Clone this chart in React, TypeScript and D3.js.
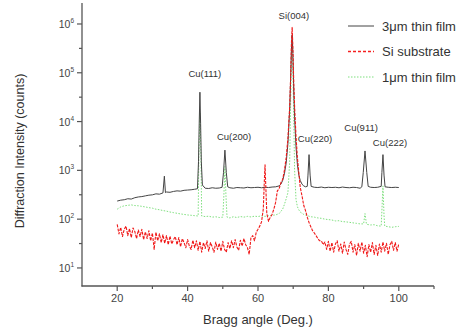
import React from "react";
import * as d3 from "d3";

// ---- data ----
const blackAngles = [20,21,22,23,24,25,26,27,28,29,30,31,32,33,33.4,33.7,34,35,36,37,38,39,40,41,42,42.8,43.1,43.3,43.5,43.7,43.9,44.2,45,46,47,48,49,49.8,50.2,50.6,51.0,51.4,52,53,54,55,56,57,58,59,60,61,62,63,64,65,66,66.5,67,67.5,68,68.5,69,69.3,69.5,69.7,69.9,70.1,70.4,70.8,71.2,71.6,72,72.5,73,73.5,74.0,74.2,74.5,74.8,75.1,76,77,78,79,80,81,82,83,84,85,86,87,88,89,89.5,89.9,90.4,90.9,91.3,92,93,94,95.0,95.2,95.5,95.8,96.1,97,98,99,100];
const blackCounts = [235,245,250,262,258,275,285,290,300,310,315,330,325,345,760,350,360,355,370,380,375,390,395,400,410,420,1500,9000,40000,9000,1500,500,430,425,440,430,435,450,900,2600,900,460,440,430,445,440,435,450,440,445,450,440,450,445,455,460,480,520,620,850,1400,3500,18000,90000,300000,600000,250000,60000,12000,3000,1300,800,620,520,480,460,470,800,2100,800,470,450,445,455,440,450,445,450,440,455,445,440,450,445,430,460,900,2500,900,470,450,445,450,470,900,2100,800,460,450,445,450,445];

const redAngles = [20,20.5,21,21.5,22,22.5,23,23.5,24,24.5,25,25.5,26,26.5,27,27.5,28,28.5,29,29.5,30,30.5,31,31.5,32,32.5,33,33.5,34,34.5,35,35.5,36,36.5,37,37.5,38,38.5,39,39.5,40,40.5,41,41.5,42,42.5,43,43.5,44,44.5,45,45.5,46,46.5,47,47.5,48,48.5,49,49.5,50,50.5,51,51.5,52,52.5,53,53.5,54,54.5,55,55.5,56,56.5,57,57.5,58,58.5,59,59.5,60,60.5,61,61.5,61.8,62,62.2,62.5,63,63.5,64,64.5,65,65.5,66,66.5,67,67.5,68,68.5,69,69.3,69.5,69.7,69.9,70.1,70.4,70.8,71.2,71.6,72,72.5,73,73.5,74,74.5,75,75.5,76,76.5,77,77.5,78,78.5,79,79.5,80,80.5,81,81.5,82,82.5,83,83.5,84,84.5,85,85.5,86,86.5,87,87.5,88,88.5,89,89.5,90,90.5,91,91.5,92,92.5,93,93.5,94,94.5,95,95.5,96,96.5,97,97.5,98,98.5,99,99.5,100];
const redCounts = [78,50,68,44,62,72,46,64,42,66,56,40,60,44,62,38,55,40,58,36,52,24,54,36,50,33,48,32,46,30,45,31,38,44,30,42,27,40,33,26,38,28,24,37,26,36,23,35,21,33,25,36,22,33,27,21,34,24,32,22,35,24,21,33,25,36,26,38,27,23,37,28,40,30,26,19,42,46,36,54,62,72,88,160,600,1300,500,130,90,110,125,160,220,380,420,560,650,1000,1800,4500,20000,100000,400000,850000,350000,90000,20000,5000,1800,900,450,300,190,150,110,85,70,58,52,46,40,36,36,30,34,24,35,22,33,21,31,36,22,31,20,34,24,19,31,35,21,30,18,32,22,34,20,29,17,30,21,33,19,29,18,31,21,34,22,32,19,30,35,23,33,22,31];

const greenAngles = [20,21,22,23,24,25,26,27,28,29,30,31,32,33,34,35,36,37,38,39,40,41,42,43,43.2,43.5,43.8,44,45,46,47,48,49,50,50.3,50.6,50.9,51.2,52,53,54,55,56,57,58,59,60,61,62,63,64,65,66,67,67.5,68,68.5,69,69.3,69.5,69.7,69.9,70.1,70.4,70.8,71.2,71.6,72,73,74,75,76,77,78,79,80,81,82,83,84,85,86,87,88,89,90,90.4,90.8,91,92,93,94,95,95.2,95.5,95.8,96,97,98,99,100];
const greenCounts = [160,178,188,192,196,190,188,183,178,172,168,160,156,150,146,140,136,132,128,125,122,120,118,116,2000,15000,2000,116,113,115,110,112,108,110,300,1200,300,110,106,112,108,113,110,114,111,115,113,117,114,118,120,122,130,160,200,260,350,1500,30000,200000,400000,150000,20000,1000,250,180,155,140,125,118,112,110,106,104,100,98,96,92,93,89,88,86,84,82,80,80,130,80,78,76,77,73,72,150,480,120,72,70,68,70,71];

const xMajorTicks = [20, 40, 60, 80, 100];
const xMinorTicks = [30, 50, 70, 90, 110];
const yExponents = [1, 2, 3, 4, 5, 6];

const legendLabels = ["3\u03bcm thin film", "Si substrate", "1\u03bcm thin film"];
const peakLabels = ["Si(004)", "Cu(111)", "Cu(200)", "Cu(220)", "Cu(911)", "Cu(222)"];
const peakLabelAngles = [70.2, 44.9, 53.2, 76.2, 89.3, 97.5];
const peakLabelCounts = [1.26e6, 8.2e4, 4.2e3, 3.8e3, 6.4e3, 3.2e3];

const FONT = "Arial, 'Liberation Sans', sans-serif";

export default function App() {
  const W = 462, H = 330;
  const x = d3.scaleLinear().domain([10, 110]).range([82, 434]);
  const y = d3.scaleLog().domain([Math.pow(10, 0.63), Math.pow(10, 6.43)]).range([286, 3]);

  const mk = (a: number[], c: number[]) =>
    d3.line<number>().x((_, i) => x(a[i])).y((v) => y(v))(c) as string;

  const axisColor = "#555";
  const series = [
    { d: mk(greenAngles, greenCounts), color: "#7fe07f", dash: "1.5,1.5", w: 1 },
    { d: mk(blackAngles, blackCounts), color: "#444", dash: "", w: 1 },
    { d: mk(redAngles, redCounts), color: "#f01818", dash: "3,1.2", w: 1.1 },
  ];
  const legendStyles = [
    { color: "#444", dash: "", w: 1 },
    { color: "#f52020", dash: "3,2", w: 1.4 },
    { color: "#7fe07f", dash: "1.5,1.5", w: 1.2 },
  ];

  return (
    <svg width={W} height={H} style={{ position: "absolute", left: 0, top: 0, background: "#fff" }}>
      <defs>
        <clipPath id="plot">
          <rect x={82} y={3} width={352} height={283} />
        </clipPath>
      </defs>
      <g clipPath="url(#plot)" fill="none">
        {series.map((s, i) => (
          <path key={i} d={s.d} stroke={s.color} strokeWidth={s.w} strokeDasharray={s.dash || undefined} strokeLinejoin="round" />
        ))}
      </g>
      <line x1={82} x2={82} y1={3} y2={286.5} stroke={axisColor} strokeWidth={1.3} />
      <line x1={81.5} x2={434} y1={286} y2={286} stroke={axisColor} strokeWidth={1.3} />
      {yExponents.map((e) => (
        <g key={e}>
          <line x1={77} x2={82} y1={y(Math.pow(10, e))} y2={y(Math.pow(10, e))} stroke={axisColor} strokeWidth={1.2} />
          <text x={74} y={y(Math.pow(10, e)) + 4} textAnchor="end" fontFamily={FONT} fontSize={10.5} fill="#444">
            10<tspan fontSize={6.5} dy={-5}>{e}</tspan>
          </text>
        </g>
      ))}
      {yExponents.slice(0, 5).map((e) => (
        <line key={"m" + e} x1={79} x2={82} y1={y(Math.pow(10, e + 0.5))} y2={y(Math.pow(10, e + 0.5))} stroke={axisColor} strokeWidth={1.2} />
      ))}
      {xMajorTicks.map((t) => (
        <g key={t}>
          <line x1={x(t)} x2={x(t)} y1={286} y2={291} stroke={axisColor} strokeWidth={1.2} />
          <text x={x(t)} y={302} textAnchor="middle" fontFamily={FONT} fontSize={11} fill="#444">{t}</text>
        </g>
      ))}
      {xMinorTicks.map((t) => (
        <line key={"n" + t} x1={x(t)} x2={x(t)} y1={286} y2={289} stroke={axisColor} strokeWidth={1.2} />
      ))}
      <text x={258} y={324} textAnchor="middle" fontFamily={FONT} fontSize={13} fill="#333">Bragg angle (Deg.)</text>
      <text transform="translate(24,151) rotate(-90)" textAnchor="middle" fontFamily={FONT} fontSize={12.5} fill="#333">Diffraction Intensity (counts)</text>
      {peakLabels.map((p, i) => (
        <text key={p} x={x(peakLabelAngles[i])} y={y(peakLabelCounts[i])} textAnchor="middle" fontFamily={FONT} fontSize={9.5} fill="#333">{p}</text>
      ))}
      {legendLabels.map((l, i) => (
        <g key={l}>
          <line x1={348} x2={374} y1={26 + i * 25.5} y2={26 + i * 25.5} stroke={legendStyles[i].color} strokeWidth={legendStyles[i].w} strokeDasharray={legendStyles[i].dash || undefined} />
          <text x={382} y={30.5 + i * 25.5} fontFamily={FONT} fontSize={13} fill="#333">{l}</text>
        </g>
      ))}
    </svg>
  );
}
